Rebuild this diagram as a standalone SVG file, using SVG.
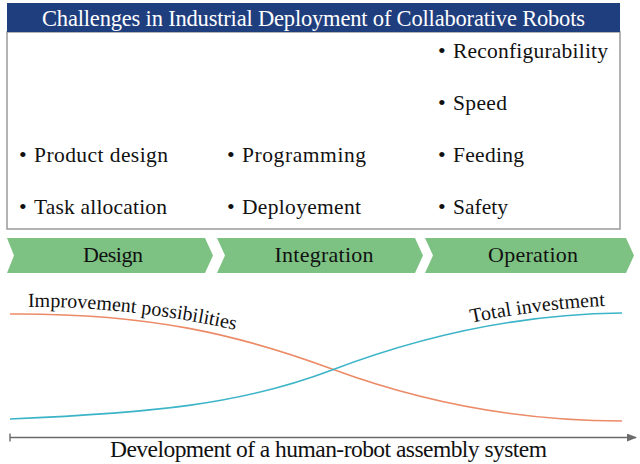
<svg xmlns="http://www.w3.org/2000/svg" xmlns:xlink="http://www.w3.org/1999/xlink" width="640" height="464" viewBox="0 0 640 464">
<style>
  text { font-family: "Liberation Serif", "Times New Roman", serif; fill: #111; }
  .title { fill: #fff; font-size: 22.5px; }
  .item { font-size: 21.5px; }
  .bullet { font-size: 22px; }
  .stage { font-size: 22px; text-anchor: middle; }
  .chev { fill: #7DC283; }
  .curve { fill: none; stroke-width: 1.6; }
  .axislbl { font-size: 23.5px; text-anchor: middle; }
  .clbl { font-size: 20px; }
</style>
<defs>
  <marker id="arr" markerWidth="10" markerHeight="8" refX="9" refY="4" orient="auto" markerUnits="userSpaceOnUse">
    <path d="M0,0 L10,4 L0,8 z" fill="#6b6b6b"/>
  </marker>
  <path id="p-improve" d="M28,307 C 100,306 180,317 240,331"/>
  <path id="p-invest" d="M440,330 C 500,315 560,308 605,306"/>
</defs>
<rect width="640" height="464" fill="#fff"/>

<g id="challenges">
  <rect x="7" y="32" width="613" height="197" fill="#fff" stroke="#9a9a9a" stroke-width="1.5"/>
  <rect x="7" y="3" width="613" height="29" fill="#1F3E7E"/>
  <text class="title" x="313.5" y="25.5" text-anchor="middle" textLength="543">Challenges in Industrial Deployment of Collaborative Robots</text>
</g>

<g id="design-items">
  <text class="bullet" x="19" y="162">•</text>
  <text class="item" x="34" y="162" textLength="134">Product design</text>
  <text class="bullet" x="19" y="214">•</text>
  <text class="item" x="34" y="214" textLength="133">Task allocation</text>
</g>
<g id="integration-items">
  <text class="bullet" x="227" y="162">•</text>
  <text class="item" x="242" y="162" textLength="124">Programming</text>
  <text class="bullet" x="227" y="214">•</text>
  <text class="item" x="242" y="214" textLength="119">Deployement</text>
</g>
<g id="operation-items">
  <text class="bullet" x="438" y="58">•</text>
  <text class="item" x="453" y="58" textLength="155">Reconfigurability</text>
  <text class="bullet" x="438" y="110">•</text>
  <text class="item" x="453" y="110" textLength="54">Speed</text>
  <text class="bullet" x="438" y="162">•</text>
  <text class="item" x="453" y="162" textLength="71">Feeding</text>
  <text class="bullet" x="438" y="214">•</text>
  <text class="item" x="453" y="214" textLength="55">Safety</text>
</g>

<g id="stage-design">
  <polygon class="chev" points="7,238 205,238 213,255.5 205,273 7,273 14,255.5"/>
  <text class="stage" x="113" y="262" textLength="60">Design</text>
</g>
<g id="stage-integration">
  <polygon class="chev" points="217,238 415,238 423,255.5 415,273 217,273 225,255.5"/>
  <text class="stage" x="324" y="262" textLength="99">Integration</text>
</g>
<g id="stage-operation">
  <polygon class="chev" points="425,238 626,238 634,255.5 626,273 425,273 433,255.5"/>
  <text class="stage" x="533" y="262" textLength="90">Operation</text>
</g>

<g id="connectors">
  <path id="improvement-curve" class="curve" stroke="#EC8B67" d="M10,314 C 150,313 240,335 332,369 C 424,403 520,421 622,421"/>
  <path id="investment-curve" class="curve" stroke="#3CB4C8" d="M10,419 C 150,413 240,405 332,370 C 424,335 520,314 622,313"/>
  <line id="axis" x1="10" y1="437.5" x2="636" y2="437.5" stroke="#6b6b6b" stroke-width="1.6" marker-end="url(#arr)"/>
  <line x1="10" y1="433.5" x2="10" y2="441.5" stroke="#6b6b6b" stroke-width="1.4"/>
</g>

<g id="labels">
  <text class="clbl"><textPath xlink:href="#p-improve" href="#p-improve" textLength="209">Improvement possibilities</textPath></text>
  <text class="clbl" text-anchor="end"><textPath xlink:href="#p-invest" href="#p-invest" startOffset="100%" textLength="135">Total investment</textPath></text>
  <text class="axislbl" x="328.5" y="456.5" textLength="437">Development of a human-robot assembly system</text>
</g>
</svg>
